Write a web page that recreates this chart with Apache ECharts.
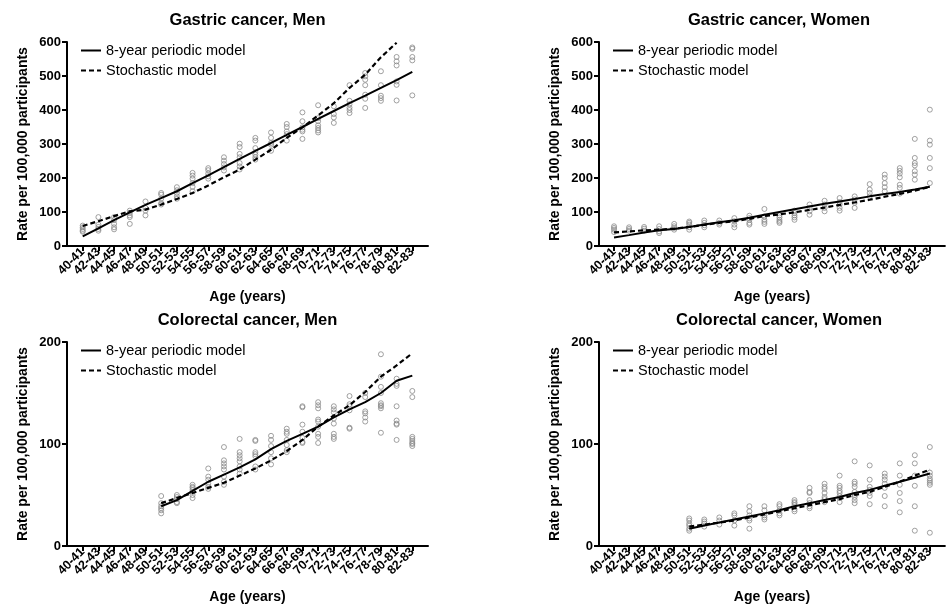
<!DOCTYPE html>
<html><head><meta charset="utf-8">
<script src="https://cdn.jsdelivr.net/npm/echarts@6/dist/echarts.min.js"></script>
<style>html,body{margin:0;padding:0;background:#fff}#c{width:947px;height:606px}</style>
</head><body><div id="c"></div>
<script>
// ---------- data ----------
const AGES = ['40-41','42-43','44-45','46-47','48-49','50-51','52-53','54-55','56-57','58-59','60-61',
  '62-63','64-65','66-67','68-69','70-71','72-73','74-75','76-77','78-79','80-81','82-83'];
const Y_TICKS_GASTRIC = [0, 600, 100];
const Y_TICKS_COLORECTAL = [0, 200, 100];
const SERIES_NAMES = ['8-year periodic model', 'Stochastic model'];
const TITLES = ['Gastric cancer, Men', 'Gastric cancer, Women', 'Colorectal cancer, Men', 'Colorectal cancer, Women'];

// Gastric, men
const GM_PERIODIC = [28, 52, 76, 99, 121, 141, 161, 185, 208, 232, 256, 280, 303, 327, 350, 374, 397, 420, 442, 465, 488, 512];
const GM_STOCH = [59, 73, 88, 102, 107, 122, 138, 156, 178, 202, 225, 254, 283, 318, 349, 384, 420, 465, 504, 555, 598];
const GM_OBS = [
  [60, 55, 50, 45, 42], [85, 63, 56, 50, 45], [85, 76, 65, 55, 49], [104, 97, 90, 85, 65],
  [131, 112, 104, 90], [156, 151, 139, 126, 122], [173, 164, 156, 146, 139], [215, 207, 198, 185, 174, 161],
  [229, 223, 213, 205, 198], [261, 251, 241, 231, 222], [301, 291, 271, 261, 244, 234, 225],
  [318, 310, 288, 276, 269, 261, 254], [334, 318, 303, 298, 280], [359, 350, 337, 329, 310],
  [393, 367, 349, 342, 337, 315], [414, 376, 367, 355, 347, 340, 334], [411, 388, 378, 362],
  [473, 427, 417, 407, 400, 391], [509, 499, 489, 473, 445, 433, 406], [514, 473, 442, 435, 427],
  [556, 543, 531, 484, 474, 428], [584, 580, 556, 546, 443]
];

// Gastric, women
const GW_PERIODIC = [25, 32, 40, 46, 50, 56, 63, 70, 76, 83, 92, 100, 108, 116, 124, 131, 138, 146, 153, 159, 166, 174];
const GW_STOCH = [40, 43, 46, 48, 51, 56, 62, 68, 73, 80, 88, 93, 99, 106, 113, 121, 128, 136, 145, 153, 163, 174];
const GW_OBS = [
  [58, 53, 48, 41], [55, 50, 45], [56, 51, 45], [58, 50, 43, 38], [65, 58, 53, 48], [72, 68, 63, 55, 48],
  [75, 68, 61, 55], [75, 68, 63], [82, 73, 63, 55], [89, 82, 77, 68, 63], [109, 87, 77, 71, 65],
  [90, 84, 77, 72, 68], [104, 97, 90, 84, 77], [122, 112, 102, 92], [133, 122, 112, 102],
  [141, 129, 122, 112, 104], [146, 137, 127, 112], [182, 166, 156, 146], [210, 200, 185, 173, 161],
  [229, 221, 213, 202, 180, 171, 154], [315, 259, 244, 237, 220, 210, 195], [401, 310, 298, 259, 229, 185]
];

// Colorectal, men
const CM_PERIODIC = [null, null, null, null, null, 39, 45, 54, 63, 70, 77, 85, 95, 103, 110, 117, 126, 134, 141, 150, 162, 167];
const CM_STOCH = [null, null, null, null, null, 42, 47, 52, 57, 62, 69, 76, 84, 93, 104, 117, 128, 138, 151, 166, 177, 189];
const CM_OBS = [
  [], [], [], [], [],
  [49, 42, 39, 37, 35, 32], [50, 48, 46, 43, 42], [60, 58, 57, 55, 53, 50, 47], [76, 68, 65, 61, 58, 56],
  [97, 84, 81, 78, 75, 68, 63, 60], [105, 92, 89, 86, 83, 78, 75, 71], [104, 103, 92, 90, 88, 78, 75],
  [108, 104, 98, 92, 86, 80], [115, 112, 110, 104, 99, 94, 92], [137, 136, 119, 112, 106, 102, 101],
  [141, 138, 135, 124, 122, 117, 110, 107, 101], [137, 134, 131, 125, 120, 110, 107, 105],
  [147, 139, 137, 133, 116, 115], [150, 146, 132, 130, 126, 122],
  [188, 166, 156, 150, 140, 138, 137, 135, 111], [164, 159, 157, 137, 123, 120, 119, 104],
  [152, 146, 107, 105, 103, 101, 100, 98]
];

// Colorectal, women
const CW_PERIODIC = [null, null, null, null, null, 17, 20, 23, 26, 29, 32, 35, 39, 42, 45, 48, 52, 55, 59, 63, 67, 71];
const CW_STOCH = [null, null, null, null, null, 19, 21, 23, 25, 28, 31, 34, 37, 40, 43, 46, 50, 53, 58, 63, 69, 75];
const CW_OBS = [
  [], [], [], [], [],
  [27, 25, 22, 20, 17, 15], [26, 24, 22, 19], [28, 25, 21], [32, 30, 25, 20], [39, 34, 30, 27, 25, 17],
  [39, 35, 30, 28, 26], [41, 39, 35, 32, 30], [45, 43, 42, 40, 36, 34], [57, 53, 52, 45, 42, 39, 37],
  [61, 58, 56, 52, 48, 46, 43], [69, 59, 57, 54, 52, 49, 47, 43], [83, 63, 61, 58, 53, 50, 48, 45, 42],
  [79, 65, 58, 55, 52, 49, 41], [71, 68, 65, 61, 57, 49, 39], [81, 69, 60, 52, 44, 33],
  [89, 81, 69, 59, 39, 15], [97, 72, 69, 66, 64, 62, 60, 13]
];

// ---------- layout ----------
const FONT = '"Liberation Sans", Arial, Helvetica, sans-serif';
const CATS = [''].concat(AGES, ['']);
const panels = [
  { left: 67, top: 42, width: 361, ticks: Y_TICKS_GASTRIC, per: GM_PERIODIC, sto: GM_STOCH, obs: GM_OBS },
  { left: 599, top: 42, width: 360, ticks: Y_TICKS_GASTRIC, per: GW_PERIODIC, sto: GW_STOCH, obs: GW_OBS },
  { left: 67, top: 342, width: 361, ticks: Y_TICKS_COLORECTAL, per: CM_PERIODIC, sto: CM_STOCH, obs: CM_OBS },
  { left: 599, top: 342, width: 360, ticks: Y_TICKS_COLORECTAL, per: CW_PERIODIC, sto: CW_STOCH, obs: CW_OBS }
];
const H = 204;

const toPairs = arr => arr.map((v, i) => [AGES[i], v]).filter(p => p[1] !== null && p[1] !== undefined);
const obsPairs = obs => { const out = []; obs.forEach((col, i) => col.forEach(v => out.push([AGES[i], v]))); return out; };

const axisLineStyle = { color: '#000', width: 2 };
const option = {
  animation: false,
  backgroundColor: '#fff',
  title: [], legend: [], grid: [], xAxis: [], yAxis: [], series: []
};

panels.forEach((p, k) => {
  option.title.push({
    text: TITLES[k], left: p.left + p.width / 2, top: p.top - 30, textAlign: 'center', padding: 0,
    textStyle: { fontSize: 16.5, fontWeight: 'bold', color: '#000', fontFamily: FONT }
  });
  option.legend.push({
    left: p.left + 13, top: p.top + 1, orient: 'vertical', padding: 0,
    itemWidth: 20, itemHeight: 14, itemGap: 5, selectedMode: false,
    itemStyle: { color: 'rgba(0,0,0,0)', borderColor: 'rgba(0,0,0,0)', borderWidth: 0, opacity: 0 },
    data: SERIES_NAMES,
    textStyle: { fontSize: 14.5, color: '#000', fontFamily: FONT }
  });
  option.grid.push({ left: p.left, top: p.top, width: p.width, height: H });
  option.xAxis.push({
    type: 'category', gridIndex: k, data: CATS, boundaryGap: false,
    axisLine: { lineStyle: axisLineStyle },
    axisTick: { interval: (i, v) => v !== '', length: 5, lineStyle: axisLineStyle },
    axisLabel: { interval: 0, rotate: 45, margin: 4, fontSize: 12.5, fontWeight: 'bold', color: '#000', fontFamily: FONT },
    splitLine: { show: false },
    name: 'Age (years)', nameLocation: 'middle', nameGap: 44,
    nameTextStyle: { fontSize: 14, fontWeight: 'bold', color: '#000', fontFamily: FONT }
  });
  option.yAxis.push({
    type: 'value', gridIndex: k, min: p.ticks[0], max: p.ticks[1], interval: p.ticks[2],
    axisLine: { show: true, lineStyle: axisLineStyle },
    axisTick: { show: true, length: 5, lineStyle: axisLineStyle },
    axisLabel: { margin: 6, fontSize: 13, fontWeight: 'bold', color: '#000', fontFamily: FONT },
    splitLine: { show: false },
    name: 'Rate per 100,000 participants', nameLocation: 'middle', nameGap: 37,
    nameTextStyle: { fontSize: 14, fontWeight: 'bold', color: '#000', fontFamily: FONT }
  });
  option.series.push({
    type: 'scatter', xAxisIndex: k, yAxisIndex: k, z: 1, symbol: 'circle', symbolSize: 5,
    itemStyle: { color: 'rgba(255,255,255,0)', borderColor: '#8a8a8a', borderWidth: 1 },
    emphasis: { disabled: true }, data: obsPairs(p.obs)
  });
  option.series.push({
    type: 'line', name: SERIES_NAMES[0], xAxisIndex: k, yAxisIndex: k, z: 3, symbol: 'none',
    lineStyle: { color: '#000', width: 2 }, itemStyle: { color: '#000' },
    emphasis: { disabled: true }, data: toPairs(p.per)
  });
  option.series.push({
    type: 'line', name: SERIES_NAMES[1], xAxisIndex: k, yAxisIndex: k, z: 3, symbol: 'none',
    lineStyle: { color: '#000', width: 2.2, type: [5, 3] }, itemStyle: { color: '#000' },
    emphasis: { disabled: true }, data: toPairs(p.sto)
  });
});

const chart = echarts.init(document.getElementById('c'), null, { renderer: 'canvas' });
chart.setOption(option);
</script></body></html>
